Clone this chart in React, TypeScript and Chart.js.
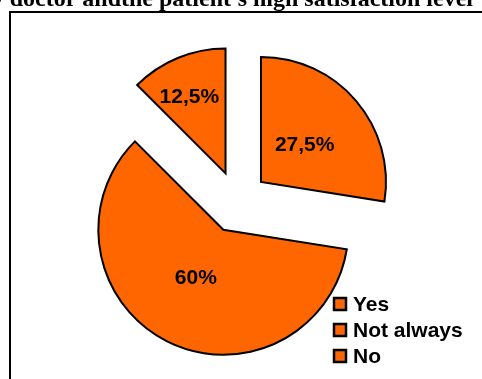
import React, { useEffect, useRef } from "react";
import { Chart, registerables } from "chart.js";

Chart.register(...registerables);

// Survey answers and their shares (%)
const CATEGORIES = ["Yes", "Not always", "No"];
const SHARES = [27.5, 60, 12.5];
const TITLE = "y doctor andthe patient's high satisfaction level";

// Where each percentage label sits inside its wedge:
// fraction of the wedge's sweep, and fraction of the radius.
const LABEL_ANGLE_FRAC = [0.5, 0.514, 0.44];
const LABEL_RADIUS_FRAC = [0.46, 0.44, 0.68];

// Distance (px) every wedge is pulled out from the pie centre
const EXPLODE = 31;

const FILL = "#FF6600";
const EDGE = "#000000";
const SANS = "'Liberation Sans', Arial, sans-serif";
const SERIF = "'Liberation Serif', 'Times New Roman', serif";

const formatShare = (v: number) => String(v).replace(".", ",") + "%";

// Pulls each wedge out along its bisector as a rigid shift, keeping its
// radius and sweep unchanged.
const explodePlugin = {
  id: "explode",
  beforeDatasetsDraw(chart: any) {
    const meta = chart.getDatasetMeta(0);
    meta.data.forEach((arc: any) => {
      if (arc.__exploded) return;
      const baseDraw = arc.draw.bind(arc);
      arc.draw = (ctx: CanvasRenderingContext2D) => {
        const mid = (arc.startAngle + arc.endAngle) / 2;
        ctx.save();
        ctx.translate(Math.cos(mid) * EXPLODE, Math.sin(mid) * EXPLODE);
        baseDraw(ctx);
        ctx.restore();
      };
      arc.__exploded = true;
    });
  },
};

const decorPlugin = {
  id: "decor",
  beforeDraw(chart: any) {
    const ctx = chart.ctx;
    ctx.save();
    ctx.fillStyle = "#ffffff";
    ctx.fillRect(0, 0, chart.width, chart.height);
    // frame of the chart
    ctx.strokeStyle = "#000";
    ctx.lineWidth = 2;
    ctx.beginPath();
    ctx.moveTo(10, chart.height + 2);
    ctx.lineTo(10, 12);
    ctx.lineTo(chart.width + 2, 12);
    ctx.stroke();
    // title
    ctx.fillStyle = "#000";
    ctx.font = `bold 24px ${SERIF}`;
    ctx.textAlign = "right";
    ctx.textBaseline = "alphabetic";
    ctx.fillText(TITLE, 473, 6);
    ctx.restore();
  },
  afterDatasetsDraw(chart: any) {
    const ctx = chart.ctx;
    const meta = chart.getDatasetMeta(0);
    ctx.save();
    ctx.fillStyle = "#000";
    ctx.font = `bold 21px ${SANS}`;
    ctx.textAlign = "center";
    ctx.textBaseline = "middle";
    meta.data.forEach((arc: any, i: number) => {
      const { x, y, startAngle, endAngle, outerRadius } = arc.getProps([
        "x",
        "y",
        "startAngle",
        "endAngle",
        "outerRadius",
      ]);
      const a = startAngle + (endAngle - startAngle) * LABEL_ANGLE_FRAC[i];
      const mid = (startAngle + endAngle) / 2;
      const ox = x + Math.cos(mid) * EXPLODE;
      const oy = y + Math.sin(mid) * EXPLODE;
      const d = outerRadius * LABEL_RADIUS_FRAC[i];
      ctx.fillText(
        formatShare(chart.data.datasets[0].data[i]),
        ox + Math.cos(a) * d,
        oy + Math.sin(a) * d + 1
      );
    });
    ctx.restore();
  },
  afterDraw(chart: any) {
    const ctx = chart.ctx;
    const labels: string[] = chart.data.labels;
    ctx.save();
    ctx.font = `bold 21px ${SANS}`;
    ctx.textAlign = "left";
    ctx.textBaseline = "middle";
    labels.forEach((label, i) => {
      const cy = 304 + i * 26;
      ctx.fillStyle = FILL;
      ctx.fillRect(334, cy - 6, 12, 12);
      ctx.strokeStyle = EDGE;
      ctx.lineWidth = 2.5;
      ctx.strokeRect(334, cy - 6, 12, 12);
      ctx.fillStyle = "#000";
      ctx.fillText(label, 353, cy + 1);
    });
    ctx.restore();
  },
};

export default function App() {
  const canvasRef = useRef<HTMLCanvasElement | null>(null);

  useEffect(() => {
    if (!canvasRef.current) return;
    const chart = new Chart(canvasRef.current, {
      type: "pie",
      data: {
        labels: CATEGORIES,
        datasets: [
          {
            data: SHARES,
            backgroundColor: FILL,
            borderColor: EDGE,
            borderWidth: 2,
            borderJoinStyle: "miter",
          },
        ],
      },
      options: {
        responsive: false,
        animation: false,
        radius: 125,
        layout: { padding: { left: 0, right: 7.2, top: 25.2, bottom: 0 } },
        plugins: {
          legend: { display: false },
          title: { display: false },
          tooltip: { enabled: false },
        },
      } as any,
      plugins: [explodePlugin, decorPlugin],
    });
    return () => chart.destroy();
  }, []);

  return (
    <div style={{ position: "fixed", left: 0, top: 0, width: 482, height: 379 }}>
      <canvas ref={canvasRef} width={482} height={379} />
    </div>
  );
}
